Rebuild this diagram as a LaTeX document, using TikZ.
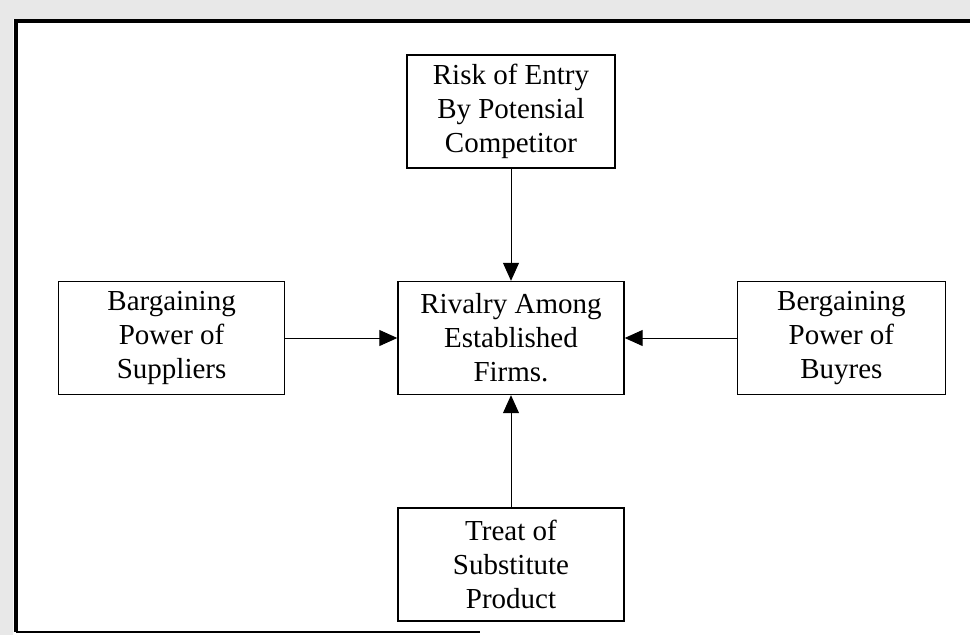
\documentclass[tikz,border=0pt]{standalone}
\usepackage{fontspec}
\setmainfont{Liberation Serif}
\usetikzlibrary{arrows.meta, positioning}
\tikzstyle{block} = [draw, line width=1.4pt, rectangle, minimum height=113pt,
    minimum width=226pt, align=center, inner sep=0pt,
    font=\fontsize{29}{34}\selectfont]
\tikzstyle{arrow} = [arrows=-{Triangle[length=18pt,width=16pt]}, line width=1pt, black]
\tikzstyle{frame} = [line width=4pt, black]

\begin{document}
\begin{tikzpicture}[x=1pt, y=-1pt, node distance=112pt]
  \useasboundingbox (0,0) rectangle (970,635);
  % Scanned margin and frame
  \fill [black!9] (0,0) rectangle (970,19) (0,19) rectangle (13,635);
  \draw [frame] (970,21) -- (16,21) -- (16,632);
  \draw [frame, line width=2pt] (16,632) -- (480,632);

  % Place the blocks
  \node [block] (rivalry) at (511,338) {Rivalry Among\\Established\\Firms.};
  \node [block, minimum width=208pt, above=of rivalry] (risk)
    {Risk of Entry\\By Potensial\\Competitor};
  \node [block, left=of rivalry] (suppliers) {Bargaining\\Power of\\Suppliers};
  \node [block, minimum width=208pt, right=of rivalry] (buyers)
    {Bergaining\\Power of\\Buyres};
  \node [block, below=of rivalry] (substitute) {Treat of\\Substitute\\Product};

  % Connect the nodes
  \draw [arrow] (risk) -- (rivalry);
  \draw [arrow] (suppliers) -- (rivalry);
  \draw [arrow] (buyers) -- (rivalry);
  \draw [arrow] (substitute) -- (rivalry);
\end{tikzpicture}
\end{document}
